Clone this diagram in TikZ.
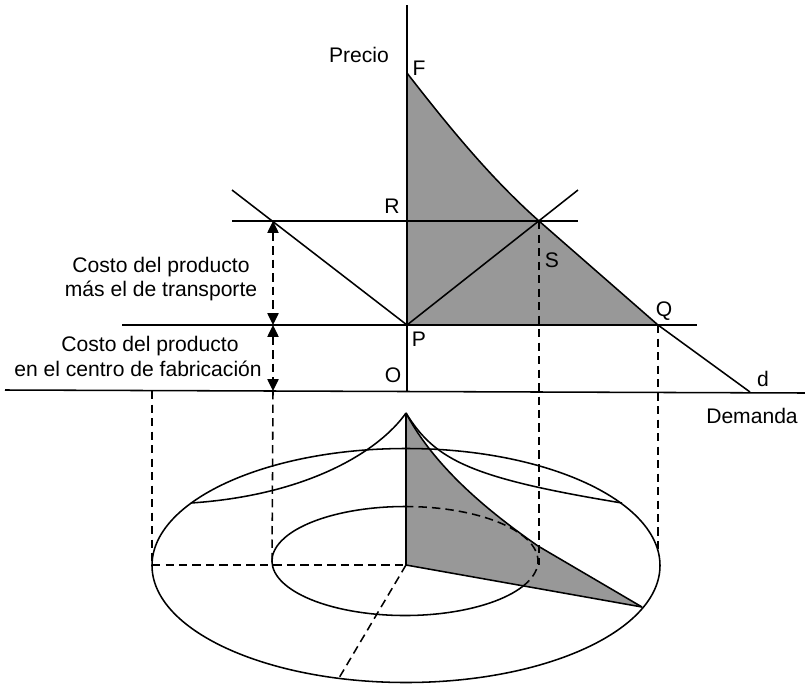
\documentclass[tikz,border=0pt]{standalone}
\usepackage{fontspec}
\setmainfont{Liberation Sans}
\definecolor{greyfill}{RGB}{152,152,152}
\usetikzlibrary{arrows.meta}
\tikzset{
  line/.style={line width=1.1pt},
  dashline/.style={line width=1.1pt,dash pattern=on 6pt off 3.6pt},
  label/.style={font=\fontsize{15}{17.5}\selectfont,inner sep=0pt,align=center},
  span/.style={dashline,{Stealth[inset=0pt,length=8.5pt,width=8pt]}-{Stealth[inset=0pt,length=8.5pt,width=8pt]}}
}
\begin{document}
\begin{tikzpicture}[x=.025cm,y=-.025cm]
  \useasboundingbox (0,0) rectangle (805,686);
  % upper graph
  \coordinate (top) at (407,5);
  \coordinate (F) at (407,73);
  \coordinate (R) at (407,221);
  \coordinate (S) at (539,221);
  \coordinate (P) at (407,325);
  \coordinate (Q) at (658,325);
  \coordinate (O) at (407,391);
  \coordinate (d) at (750,392);
  \coordinate (axisl) at (5,390);
  \coordinate (axisr) at (805,393);
  \coordinate (rl) at (232,221);
  \coordinate (rr) at (578,221);
  \coordinate (pl) at (122,325);
  \coordinate (pr) at (697,325);
  \coordinate (dl) at (232,190);
  \coordinate (dr) at (578,190);
  \coordinate (cross) at (273,221);
  \coordinate (crossp) at (273,325);
  \coordinate (crosso) at (273,391);
  \coordinate (farl) at (152,391);
  \coordinate (qv) at (658,552);
  % lower graph
  \coordinate (C) at (406,565);
  \coordinate (A) at (406,413);
  \coordinate (B) at (538,546);
  \coordinate (T) at (642,607);
  \coordinate (left) at (152,565);
  \coordinate (inl) at (272,565);
  \coordinate (sv) at (539,565);
  \coordinate (bot) at (339,678);
  \coordinate (cl) at (191,503);
  \coordinate (cr) at (622,503);

  \fill[greyfill] (F) .. controls (455,135) and (495,182) .. (S) -- (Q) -- (P) -- cycle;
  \fill[greyfill] (A) .. controls (437,472) and (498,518) .. (B) -- (T) -- (C) -- cycle;

  \foreach \from/\to in {top/O,axisl/axisr,rl/rr,pl/pr,dl/P,P/dr,S/Q,Q/d,C/T,A/C,B/T}
    \draw[line] (\from) -- (\to);
  \draw[line] (F) .. controls (455,135) and (495,182) .. (S);
  \draw[line] (A) .. controls (437,472) and (498,518) .. (B);
  \draw[line] (A) .. controls (380,450) and (310,495) .. (cl);
  \draw[line] (A) .. controls (435,460) and (470,478) .. (cr);

  \draw[line] (406,565.5) ellipse [x radius=254,y radius=117];
  \draw[line] (405,561) ++(22:133 and 54.5) arc (22:270:133 and 54.5);
  \draw[dashline] (405,561) ++(-90:133 and 54.5) arc (-90:22:133 and 54.5);

  \foreach \from/\to in {farl/left,crosso/inl,S/sv,Q/qv,left/C,C/bot}
    \draw[dashline] (\from) -- (\to);
  \draw[span] (cross) -- (crossp);
  \draw[span] (crossp) -- (crosso);

  \node[label] (precio) at (359,55) {Precio};
  \node[label] (nF) at (419,68) {F};
  \node[label] (nR) at (392,206) {R};
  \node[label] (nS) at (552,260) {S};
  \node[label] (nQ) at (664,311) {Q};
  \node[label] (nP) at (419,339) {P};
  \node[label] (nO) at (393,375) {O};
  \node[label] (nd) at (763,379) {d};
  \node[label] (demanda) at (752,416) {Demanda};
  \node[label] (costo) at (161,279) {Costo del producto\\más el de transporte};
  \node[label] (costob) at (150,346) {Costo del producto};
  \node[label] (centro) at (138,369) {en el centro de fabricación};
\end{tikzpicture}
\end{document}
